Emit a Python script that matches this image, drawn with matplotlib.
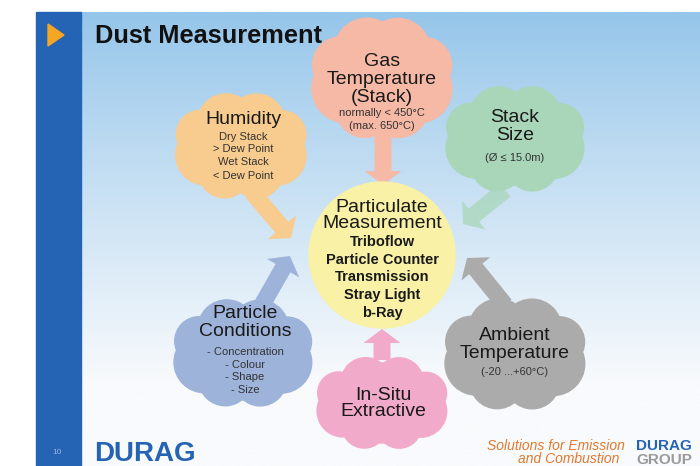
import numpy as np
import matplotlib.pyplot as plt
from matplotlib.patches import Rectangle, Circle, Ellipse, Polygon, FancyArrow

plt.rcParams['font.family'] = ['Liberation Sans', 'DejaVu Sans']

# slide content
title = 'Dust Measurement'
cloud_titles = [['Gas', 'Temperature', '(Stack)'], ['Humidity'], ['Stack', 'Size'],
                ['Particle', 'Conditions'], ['In-Situ', 'Extractive'], ['Ambient', 'Temperature']]
cloud_notes = [['normally < 450°C', '(max. 650°C)'],
               ['Dry Stack', '> Dew Point', 'Wet Stack', '< Dew Point'],
               ['(Ø ≤ 15.0m)'],
               ['- Concentration', '- Colour', '- Shape', '- Size'],
               [],
               ['(-20 ...+60°C)']]
cloud_colors = ['#F5B9A6', '#F8CB8E', '#A9D6B9', '#9DB3DA', '#F2AACB', '#ABABAB']
arrow_alpha = [1, 1, 0.75, 1, 1, 1]
center_title = ['Particulate', 'Measurement']
center_items = ['Triboflow', 'Particle Counter', 'Transmission', 'Stray Light', 'b-Ray']

# layout (pixels of the 700x466 slide)
cloud_xy = [(382, 78), (241, 146), (515, 139), (243, 353), (382, 403), (515, 354)]
cloud_r = [(73, 62), (68, 54), (72, 54), (72, 55), (68, 47), (73, 57)]
arrows = [((383, 132), (383, 185)), ((252, 192), (291, 238)), ((505, 190), (463, 224)),
          ((262, 305), (290, 256)), ((382, 360), (382, 329)), ((505, 305), (467, 258))]
title_lines_y = [[62, 80, 97], [120], [118, 135], [313, 332], [395, 412], [335, 353]]
note_lines_y = [[113, 126], [137, 149.5, 162, 176], [158], [352, 364.5, 377, 390], [], [372]]

fig = plt.figure(figsize=(7, 4.66), dpi=100)
ax = fig.add_axes([0, 0, 1, 1])
ax.set_xlim(0, 700)
ax.set_ylim(466, 0)
ax.axis('off')

# background gradient
top = np.array([148, 197, 234]) / 255
bot = np.array([248, 250, 252]) / 255
t = np.clip(np.linspace(0, 1, 200) ** 0.9 * 1.2, 0, 1)[:, None]
grad = (top * (1 - t) + bot * t)[:, None, :]
ax.imshow(grad, extent=(36, 700, 466, 12), aspect='auto', zorder=0)
ax.add_patch(Rectangle((36, 12), 45, 454, color='#2563B5', zorder=1))
ax.add_patch(Polygon([(48, 24), (48, 46), (64, 35)], color='#F5A623', zorder=2))
ax.text(95, 36, title, fontsize=18.3, fontweight='bold', va='center', ha='left',
        color='#111111', zorder=3)


def cloud(cx, cy, rx, ry, color):
    ax.add_patch(Ellipse((cx, cy), 2 * rx * 0.85, 2 * ry * 0.85, color=color, zorder=3))
    n = 8
    for k in range(n):
        a = 2 * np.pi * k / n + 0.4
        r = 0.5 * min(rx, ry) * (1 + 0.12 * np.sin(3 * a))
        ax.add_patch(Circle((cx + (rx - r) * np.cos(a), cy + (ry - r) * np.sin(a)), r,
                            color=color, zorder=3))


for (cx, cy), (rx, ry), col, al, (p0, p1) in zip(cloud_xy, cloud_r, cloud_colors,
                                                  arrow_alpha, arrows):
    dx, dy = p1[0] - p0[0], p1[1] - p0[1]
    ax.add_patch(FancyArrow(p0[0], p0[1], dx, dy, width=17, head_width=37, head_length=14,
                            length_includes_head=True, color=col, alpha=al, lw=0, zorder=2))
    cloud(cx, cy, rx, ry, col)

# center circle
ax.add_patch(Circle((382, 255), 73, color='#F8F1A6', zorder=3))
for i, line in enumerate(center_title):
    ax.text(382, 207 + i * 16.5, line, ha='center', va='center', fontsize=14,
            color='#1a1a1a', zorder=5)
for i, item in enumerate(center_items):
    ax.text(382, 242 + i * 17.7, item, ha='center', va='center', fontsize=10.5,
            fontweight='bold', color='#1a1a1a', zorder=5)

# cloud texts
cloud_x = [382, 243, 515, 245, 383, 515]
for x, ct, cn, ty, ny in zip(cloud_x, cloud_titles, cloud_notes, title_lines_y, note_lines_y):
    for line, y in zip(ct, ty):
        ax.text(x, y, line, ha='center', va='center', fontsize=14, color='#1a1a1a', zorder=5)
    for line, y in zip(cn, ny):
        ax.text(x, y, line, ha='center', va='center', fontsize=8, color='#333333', zorder=5)

# footer
ax.text(57, 452, '10', fontsize=6, color='#9DB6D8', va='center', ha='center', zorder=5)
ax.text(94, 454, 'DURAG', fontsize=20, fontweight='bold', color='#2563B5',
        va='center', ha='left', zorder=5)
ax.text(556, 446, 'Solutions for Emission', fontsize=10, style='italic', color='#E2792E',
        va='center', ha='center', zorder=5)
ax.text(569, 459, 'and Combustion', fontsize=10, style='italic', color='#E2792E',
        va='center', ha='center', zorder=5)
ax.text(664, 446, 'DURAG', fontsize=11, fontweight='bold', color='#2563B5',
        va='center', ha='center', zorder=5)
ax.text(664, 460, 'GROUP', fontsize=11, fontweight='bold', color='#9A9A9A',
        va='center', ha='center', zorder=5)

plt.savefig('out.png', dpi=100)
